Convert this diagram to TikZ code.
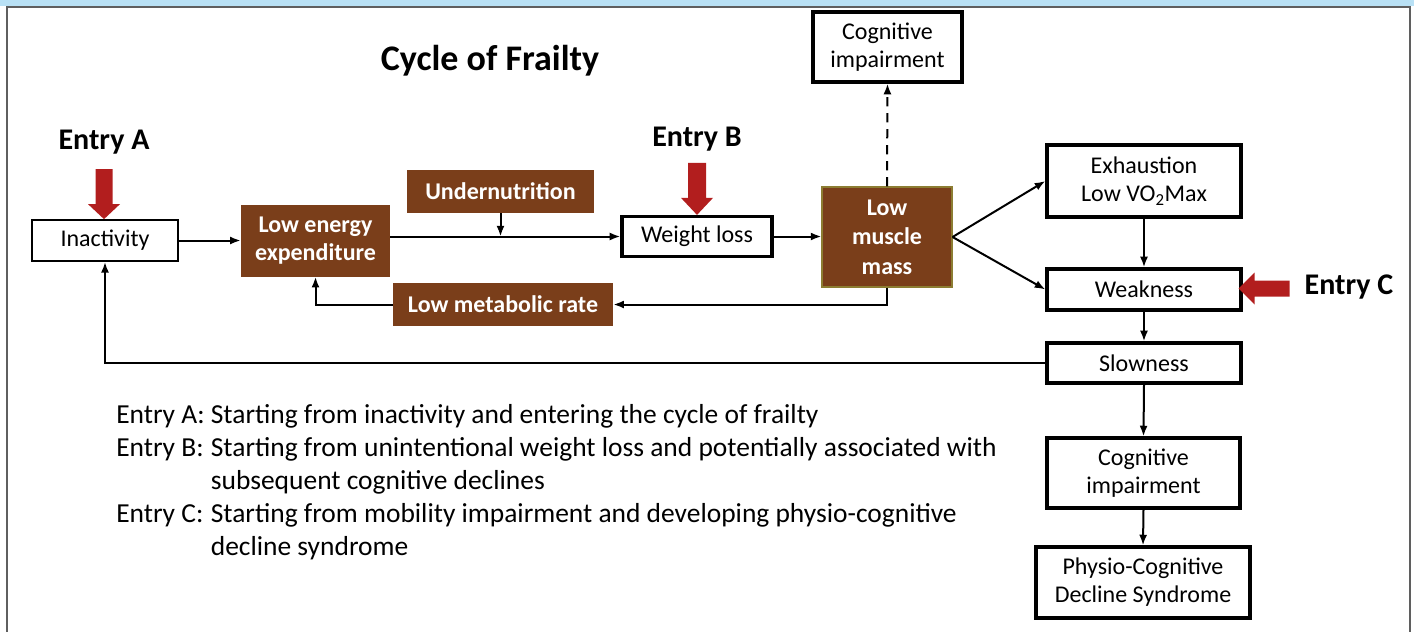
\documentclass[tikz,border=0pt]{standalone}
\usepackage{fontspec}
\setmainfont{Carlito}
\usetikzlibrary{arrows.meta,calc}
\definecolor{brownbox}{RGB}{122,62,26}
\definecolor{entryred}{RGB}{178,30,30}
\definecolor{bandblue}{RGB}{185,225,245}
\definecolor{framegray}{RGB}{95,95,95}
\definecolor{olivebd}{RGB}{140,125,50}
\tikzset{
  txt/.style={font=\fontsize{18}{21}\selectfont, align=center},
  whitebox/.style={txt, draw=black, fill=white, line width=1.3pt, inner sep=0pt},
  thickbox/.style={whitebox, line width=2.4pt},
  brownb/.style={txt, fill=brownbox, text=white, inner sep=0pt, font=\bfseries\fontsize{18}{21}\selectfont},
  conn/.style={line width=1.5pt, -{Latex[length=8pt,width=6pt]}},
  entrylbl/.style={font=\bfseries\fontsize{22.5}{26}\selectfont},
  bigarrow/.style={fill=entryred, draw=none}
}
\begin{document}
\begin{tikzpicture}[x=0.75pt,y=-0.75pt]
\useasboundingbox (0,0) rectangle (1414,632);
% frame
\fill[bandblue] (0,0) rectangle (1414,6);
\draw[framegray, line width=1.5pt] (7,632) -- (7,6.5) -- (1410,6.5) -- (1410,632);

% title and entry labels
\node[font=\bfseries\fontsize{27}{32}\selectfont] (title) at (490,61) {Cycle of Frailty};
\node[entrylbl] (ea) at (104,142) {Entry A};
\node[entrylbl] (eb) at (697,139) {Entry B};
\node[entrylbl, anchor=west] (ec) at (1300,287) {Entry C};

% boxes
\node[whitebox, minimum width=109.5pt, minimum height=30.75pt] (inact) at (105,240.5) {Inactivity};
\node[brownb, minimum width=111.75pt, minimum height=54pt] (lee) at (315.5,240.5) {Low energy\\expenditure};
\node[brownb, minimum width=140.25pt, minimum height=32.25pt] (under) at (500.5,191.5) {Undernutrition};
\node[brownb, minimum width=165pt, minimum height=32.25pt] (lmr) at (503,304.5) {Low metabolic rate};
\node[thickbox, minimum width=112.5pt, minimum height=30pt] (wl) at (697,236.5) {Weight loss};
\node[brownb, draw=olivebd, line width=0.8pt, minimum width=97.5pt, minimum height=75pt, font=\bfseries\fontsize{18}{22}\selectfont] (lmm) at (887,237) {Low\\muscle\\mass};
\node[thickbox, minimum width=111.75pt, minimum height=52.5pt] (cogtop) at (887.5,47) {Cognitive\\impairment};
\node[thickbox, minimum width=145.5pt, minimum height=54pt] (exh) at (1144,181) {Exhaustion\\Low VO\textsubscript{2}Max};
\node[thickbox, minimum width=145.5pt, minimum height=30.75pt] (weak) at (1144,289.5) {Weakness};
\node[thickbox, minimum width=145.5pt, minimum height=30pt] (slow) at (1144,363) {Slowness};
\node[thickbox, minimum width=144.75pt, minimum height=52.5pt] (cog) at (1143.5,473) {Cognitive\\impairment};
\node[thickbox, minimum width=160.5pt, minimum height=53.25pt] (pcds) at (1143,582.5) {Physio-Cognitive\\Decline Syndrome};

% connectors
\draw[conn] (inact) -- (lee);
\draw[conn] (lee.east |- wl.west) -- (wl.west);
\draw[conn] (under.south) -- (under.south |- wl.west);
\draw[conn] (wl.east) -- (wl.east -| lmm.west);
\draw[conn, dashed, dash pattern=on 7pt off 5pt] (lmm.north) -- (cogtop.south);
\draw[conn] (lmm.south) |- (lmr.east);
\draw[conn] (lmr.west) -| (lee.south);
\draw[conn] (lmm.east) -- (exh.west);
\draw[conn] (lmm.east) -- (weak.west);
\draw[conn] (exh.south) -- (weak.north);
\draw[conn] (weak.south) -- (slow.north);
\draw[conn] (slow.south) -- (cog.north);
\draw[conn] (cog.south) -- (pcds.north);
\draw[conn] (slow.west) -| (inact.south);

% entry block arrows
\fill[bigarrow] ($(inact.north)+(-1,0)$) -- ++(-16,-15) -- ++(7.5,0) -- ++(0,-35) -- ++(17,0) -- ++(0,35) -- ++(7.5,0) -- cycle;
\fill[bigarrow] (wl.north) -- ++(-16,-17) -- ++(7,0) -- ++(0,-35) -- ++(18,0) -- ++(0,35) -- ++(7,0) -- cycle;
\fill[bigarrow] ($(weak.east)+(-4,-1)$) -- ++(16,-16) -- ++(0,8) -- ++(35,0) -- ++(0,16) -- ++(-35,0) -- ++(0,8) -- cycle;

% legend
\node[anchor=north west, inner sep=0pt, font=\fontsize{20.6}{24.75}\selectfont] (legend) at (116,400) {%
\begin{tabular}{@{}l@{ }l@{}}
Entry A: & Starting from inactivity and entering the cycle of frailty\\
Entry B: & Starting from unintentional weight loss and potentially associated with\\
 & subsequent cognitive declines\\
Entry C: & Starting from mobility impairment and developing physio-cognitive\\
 & decline syndrome
\end{tabular}};
\end{tikzpicture}
\end{document}
